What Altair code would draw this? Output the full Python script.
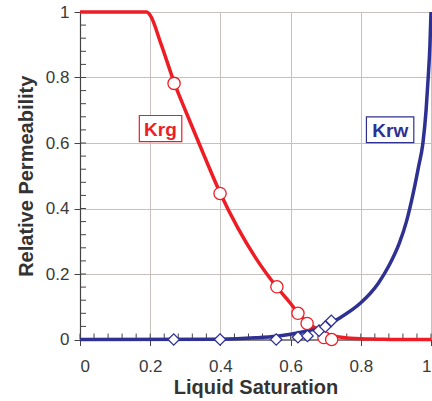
import altair as alt
import pandas as pd

# Krg smooth curve
krg_curve_x = [0.0, 0.19, 0.2, 0.23, 0.27, 0.3, 0.35, 0.4, 0.45, 0.5, 0.56, 0.6, 0.62,
               0.65, 0.68, 0.7, 0.72, 0.75, 0.8, 0.85, 0.9, 1.0]
krg_curve_y = [1.0, 1.0, 0.99, 0.905, 0.78, 0.70, 0.571, 0.446, 0.34, 0.25, 0.161, 0.11,
               0.082, 0.05, 0.029, 0.019, 0.012, 0.006, 0.002, 0.001, 0.0, 0.0]
# Krw smooth curve
krw_curve_x = [0.0, 0.4, 0.5, 0.56, 0.6, 0.65, 0.7, 0.74, 0.8, 0.85, 0.88, 0.91, 0.93,
               0.95, 0.965, 0.977, 0.986, 0.992, 0.997, 1.0]
krw_curve_y = [0.0, 0.001, 0.005, 0.01, 0.016, 0.027, 0.043, 0.066, 0.112, 0.172, 0.225,
               0.295, 0.36, 0.45, 0.53, 0.6, 0.7, 0.8, 0.9, 1.0]
# measured points
krg_pts_x = [0.268, 0.399, 0.561, 0.621, 0.647, 0.695, 0.717]
krg_pts_y = [0.782, 0.446, 0.161, 0.080, 0.049, 0.006, 0.0]
krw_pts_x = [0.267, 0.399, 0.559, 0.621, 0.648, 0.681, 0.699, 0.716]
krw_pts_y = [0.0, 0.0, 0.0, 0.007, 0.011, 0.027, 0.039, 0.057]

# labels
label_text = ["Krg", "Krw"]
label_x = [0.229, 0.884]
label_y = [0.644, 0.641]
label_x0 = [0.169, 0.816]
label_x1 = [0.290, 0.951]
label_y0 = [0.604, 0.601]
label_y1 = [0.684, 0.680]
label_color = ["#ee1d25", "#2e3192"]

major_ticks = [0, 0.2, 0.4, 0.6, 0.8, 1.0]
minor_ticks = [round(i * 0.04, 2) for i in range(26)]

RED = "#ee1d25"
BLUE = "#2e3192"

xs = alt.Scale(domain=[0, 1], nice=False)
ys = alt.Scale(domain=[0, 1], nice=False)

xaxis = alt.Axis(values=major_ticks, format="~g", title="Liquid Saturation")
yaxis = alt.Axis(values=major_ticks, format="~g", title="Relative Permeability")

krg_df = pd.DataFrame({"x": krg_curve_x, "y": krg_curve_y})
krw_df = pd.DataFrame({"x": krw_curve_x, "y": krw_curve_y})
krgp_df = pd.DataFrame({"x": krg_pts_x, "y": krg_pts_y})
krwp_df = pd.DataFrame({"x": krw_pts_x, "y": krw_pts_y})
lab_df = pd.DataFrame({"t": label_text, "x": label_x, "y": label_y, "x0": label_x0,
                       "x1": label_x1, "y0": label_y0, "y1": label_y1, "c": label_color})
ytick_df = pd.DataFrame({"v": minor_ticks})
xtick_df = pd.DataFrame({"v": minor_ticks})

H = 327.5

yticks = alt.Chart(ytick_df).mark_rule(color="#444444", strokeWidth=1).encode(
    y=alt.Y("v:Q", scale=ys, axis=yaxis), x=alt.value(0), x2=alt.value(6))
xticks = alt.Chart(xtick_df).mark_rule(color="#444444", strokeWidth=1).encode(
    x=alt.X("v:Q", scale=xs, axis=xaxis), y=alt.value(H), y2=alt.value(H - 6))

krg_line = alt.Chart(krg_df).mark_line(color=RED, strokeWidth=3.5, interpolate="monotone").encode(
    x=alt.X("x:Q", scale=xs, axis=xaxis), y=alt.Y("y:Q", scale=ys, axis=yaxis))
krw_line = alt.Chart(krw_df).mark_line(color=BLUE, strokeWidth=3.5, interpolate="monotone").encode(
    x=alt.X("x:Q", scale=xs, axis=xaxis), y=alt.Y("y:Q", scale=ys, axis=yaxis))
krg_pts = alt.Chart(krgp_df).mark_point(shape="circle", filled=False, fill="white", fillOpacity=1,
                                        color=RED, strokeWidth=1.3, size=150, opacity=1).encode(
    x=alt.X("x:Q", scale=xs), y=alt.Y("y:Q", scale=ys))
krw_pts = alt.Chart(krwp_df).mark_point(shape="diamond", filled=False, fill="white", fillOpacity=1,
                                        color=BLUE, strokeWidth=1.3, size=130, opacity=1).encode(
    x=alt.X("x:Q", scale=xs), y=alt.Y("y:Q", scale=ys))

boxes = alt.Chart(lab_df).mark_rect(fill="white", strokeWidth=1.2).encode(
    x=alt.X("x0:Q", scale=xs), x2="x1:Q", y=alt.Y("y0:Q", scale=ys), y2="y1:Q",
    stroke=alt.Color("c:N", scale=None))
texts = alt.Chart(lab_df).mark_text(fontSize=19, fontWeight="bold", font="Liberation Sans",
                                    baseline="middle", align="center", dy=1).encode(
    x=alt.X("x:Q", scale=xs), y=alt.Y("y:Q", scale=ys), text="t:N",
    color=alt.Color("c:N", scale=None))

chart = alt.layer(yticks, xticks, krw_line, krg_line, krg_pts, krw_pts, boxes, texts).properties(
    width=351, height=H,
    autosize=alt.AutoSizeParams(type="none"),
    padding={"left": 80, "top": 12, "right": 1, "bottom": 61},
).configure_view(stroke="#a89d9d", strokeWidth=1).configure_axis(
    labelFont="Liberation Sans", titleFont="Liberation Sans",
    labelFontSize=17, labelColor="#3a3a3a",
    titleFontSize=20, titleFontWeight="bold", titleColor="#333333",
    domainColor="#444444", domainWidth=1.2,
    tickColor="#444444", tickSize=6, tickWidth=1,
    gridColor="#c9bfbf", gridWidth=1, gridOpacity=1,
).configure_axisX(labelPadding=13, titlePadding=3).configure_axisY(labelPadding=5, titlePadding=9)

chart.save("out.html", embed_options={"renderer": "svg", "actions": False})
